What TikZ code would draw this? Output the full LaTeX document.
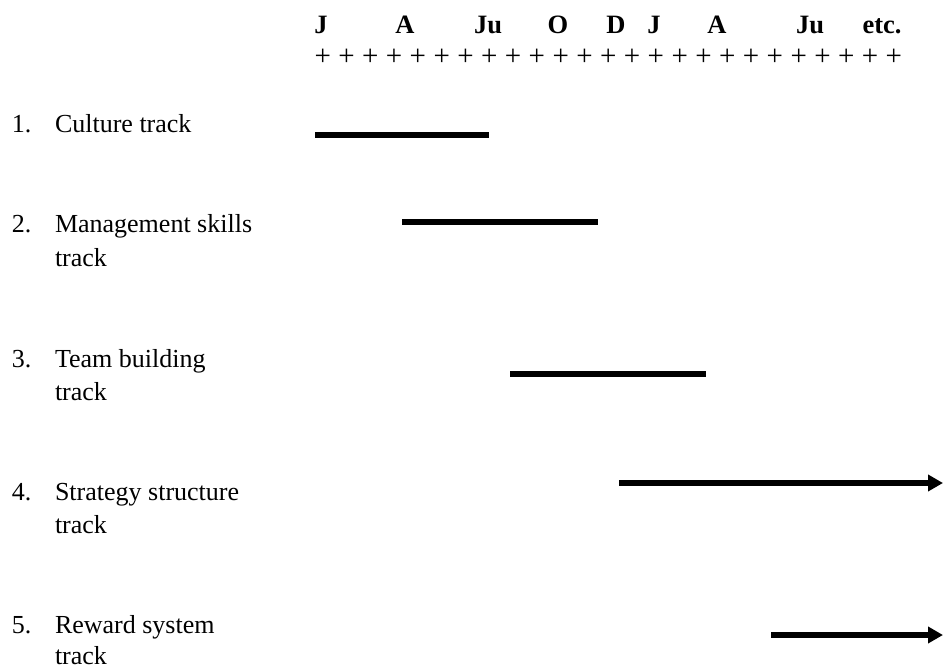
\documentclass[tikz,border=0pt]{standalone}
\usepackage{fontspec}
\setmainfont{Liberation Serif}
\usetikzlibrary{arrows.meta}
\begin{document}
\begin{tikzpicture}[x=1pt,y=-1pt,
  every node/.style={inner sep=0pt,outer sep=0pt},
  label/.style={anchor=base west,font=\fontsize{26}{33}\selectfont},
  month/.style={anchor=base,font=\fontsize{26.5}{30}\bfseries\selectfont},
  tick/.style={anchor=center,font=\fontsize{29}{30}\selectfont},
  bar/.style={line width=5.6pt,line cap=butt},
  openbar/.style={bar,-{Triangle[length=15pt,width=16pt]}}]
\useasboundingbox[fill=white] (0,0) rectangle (944,668);

% month header
\node[month] (m1) at (321,34) {J};
\node[month] (m2) at (405,34) {A};
\node[month] (m3) at (488,34) {Ju};
\node[month] (m4) at (558,34) {O};
\node[month] (m5) at (616,34) {D};
\node[month] (m6) at (654,34) {J};
\node[month] (m7) at (717,34) {A};
\node[month] (m8) at (810,34) {Ju};
\node[month] (m9) at (882,34) {etc.};

% tick row
\foreach \i in {0,...,24}
  \node[tick] (p\i) at ({322.7+\i*23.8},57) {+};

% track labels
\node[label] (n1) at (12,133) {1.};
\node[label] (t1) at (55,133) {Culture track};
\node[label] (n2) at (12,233) {2.};
\node[label] (t2) at (55,233) {Management skills};
\node[label] (t2b) at (55,266) {track};
\node[label] (n3) at (12,367) {3.};
\node[label] (t3) at (55,367) {Team building};
\node[label] (t3b) at (55,400) {track};
\node[label] (n4) at (12,500) {4.};
\node[label] (t4) at (55,500) {Strategy structure};
\node[label] (t4b) at (55,533) {track};
\node[label] (n5) at (12,633) {5.};
\node[label] (t5) at (55,633) {Reward system};
\node[label] (t5b) at (55,664) {track};

% track bars
\coordinate (s1) at (315,135); \coordinate (e1) at (489,135);
\coordinate (s2) at (402,222); \coordinate (e2) at (598,222);
\coordinate (s3) at (510,374); \coordinate (e3) at (706,374);
\coordinate (s4) at (619,483); \coordinate (e4) at (943,483);
\coordinate (s5) at (771,635); \coordinate (e5) at (943,635);
\draw[bar] (s1) -- (e1);
\draw[bar] (s2) -- (e2);
\draw[bar] (s3) -- (e3);
\draw[openbar] (s4) -- (e4);
\draw[openbar] (s5) -- (e5);
\end{tikzpicture}
\end{document}
